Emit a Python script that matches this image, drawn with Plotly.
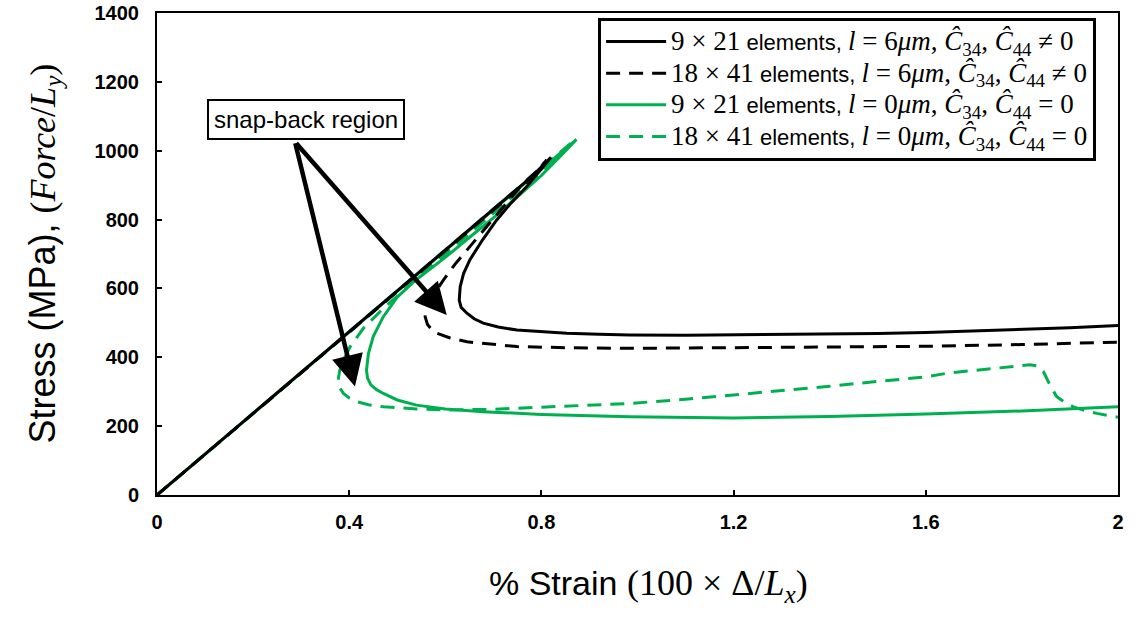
import plotly.graph_objects as go

# ---- data ----
bs_strain = [0, 0.20, 0.40, 0.60, 0.70, 0.78, 0.82, 0.80, 0.769, 0.735, 0.707, 0.678, 0.651, 0.638, 0.631, 0.629,
             0.633, 0.645, 0.660, 0.679, 0.710, 0.749, 0.800, 0.853, 0.92, 0.984, 1.10, 1.20, 1.30, 1.40, 1.50,
             1.60, 1.70, 1.80, 1.90, 2.00]
bs_stress = [0, 237, 474, 711, 829, 925, 981, 947, 895, 845, 799, 742, 683, 643, 605, 566,
             545, 528, 512, 499, 488, 479, 474, 470, 467, 465, 464, 465, 466, 467, 469,
             472, 476, 480, 486, 492]

bd_strain = [0, 0.20, 0.40, 0.60, 0.70, 0.78, 0.811, 0.79, 0.762, 0.721, 0.690, 0.651, 0.620, 0.596, 0.568, 0.560,
             0.558, 0.563, 0.572, 0.582, 0.610, 0.645, 0.700, 0.749, 0.850, 0.984, 1.20, 1.40, 1.60, 1.80, 2.00]
bd_stress = [0, 236, 472, 708, 826, 922, 973, 940, 905, 837, 785, 721, 670, 624, 566, 540,
             518, 495, 480, 470, 456, 445, 437, 431, 428, 426, 428, 429, 432, 437, 444]

gs_strain = [0, 0.20, 0.40, 0.60, 0.80, 0.873, 0.84, 0.80, 0.75, 0.70, 0.65, 0.60, 0.54, 0.50, 0.471, 0.450,
             0.440, 0.436, 0.438, 0.445, 0.457, 0.471, 0.50, 0.540, 0.60, 0.679, 0.80, 0.984, 1.20, 1.40,
             1.60, 1.80, 2.00]
gs_stress = [0, 237, 474, 711, 948, 1033, 985, 928, 866, 805, 748, 690, 626, 575, 518, 460,
             411, 363, 340, 320, 306, 295, 276, 261, 250, 242, 234, 227, 224, 228,
             235, 244, 256]

gd_strain = [0, 0.20, 0.40, 0.60, 0.80, 0.868, 0.84, 0.80, 0.75, 0.70, 0.65, 0.60, 0.54, 0.471, 0.43, 0.402,
             0.388, 0.380, 0.377, 0.380, 0.388, 0.400, 0.416, 0.440, 0.471, 0.54, 0.61, 0.70, 0.818, 0.90,
             0.984, 1.10, 1.20, 1.30, 1.40, 1.50, 1.60, 1.65, 1.72, 1.78, 1.817, 1.835, 1.845, 1.855, 1.872,
             1.89, 1.907, 1.93, 1.956, 1.98, 2.00]
gd_stress = [0, 237, 474, 711, 948, 1030, 990, 937, 878, 818, 758, 698, 628, 542, 485, 431,
             392, 360, 334, 312, 295, 282, 271, 262, 256, 250, 247, 249, 256, 261,
             266, 278, 290, 302, 316, 330, 343, 355, 365, 372, 378, 374, 358, 329, 286,
             268, 256, 246, 237, 231, 226]

x_ticks = [0, 0.4, 0.8, 1.2, 1.6, 2]
x_tick_labels = ["0", "0.4", "0.8", "1.2", "1.6", "2"]
y_ticks = [0, 200, 400, 600, 800, 1000, 1200, 1400]

arrow_tail = (0.287, 1026)
arrow_heads = [(0.603, 523), (0.412, 315)]
box_label = "snap-back region"
box_pos = (0.311, 1090)

SERIF = "Liberation Serif"
SANS = "Liberation Sans"


def m(s, size=None):
    st = f"font-family:{SERIF}"
    if size:
        st += f";font-size:{size}px"
    return f'<span style="{st}">{s}</span>'


LS = 27  # serif size in legend


def leg(a, l, op):
    return (m(a, LS) + " elements, " +
            m(f"<i>l</i> = {l}<i>μm</i>, <i>Ĉ</i><sub>34</sub>, <i>Ĉ</i><sub>44</sub> {op} 0", LS))


names = [leg("9 × 21", 6, "≠"), leg("18 × 41", 6, "≠"), leg("9 × 21", 0, "="), leg("18 × 41", 0, "=")]

GREEN = "#00B050"
BLACK = "#000000"
DASH = "14px,9px"

fig = go.Figure()
fig.add_trace(go.Scatter(x=gs_strain, y=gs_stress, mode="lines", name=names[2], legendrank=3,
                         line=dict(color=GREEN, width=3)))
fig.add_trace(go.Scatter(x=gd_strain, y=gd_stress, mode="lines", name=names[3], legendrank=4,
                         line=dict(color=GREEN, width=3, dash=DASH)))
fig.add_trace(go.Scatter(x=bs_strain, y=bs_stress, mode="lines", name=names[0], legendrank=1,
                         line=dict(color=BLACK, width=3)))
fig.add_trace(go.Scatter(x=bd_strain, y=bd_stress, mode="lines", name=names[1], legendrank=2,
                         line=dict(color=BLACK, width=3, dash=DASH)))

for hx, hy in arrow_heads:
    fig.add_annotation(x=hx, y=hy, ax=arrow_tail[0], ay=arrow_tail[1], axref="x", ayref="y",
                       xref="x", yref="y", text="", showarrow=True, arrowhead=2, arrowsize=1.4,
                       arrowwidth=4.5, arrowcolor="black")

fig.add_annotation(x=box_pos[0], y=box_pos[1], xref="x", yref="y", text=box_label, showarrow=False,
                   font=dict(family=SANS, size=24, color="black"), bgcolor="white",
                   bordercolor="black", borderwidth=2, borderpad=5)

# axis titles as annotations for exact placement
fig.add_annotation(x=-0.117, y=0.50, xref="paper", yref="paper", textangle=-90, showarrow=False,
                   text="Stress (MPa), " + m("(<i>Force</i>/<i>L<sub>y</sub></i>)", 36),
                   font=dict(family=SANS, size=36, color="black"), xanchor="center", yanchor="middle")
fig.add_annotation(x=0.511, y=-0.187, xref="paper", yref="paper", showarrow=False,
                   text="% Strain " + m("(100 × Δ/<i>L<sub>x</sub></i>)", 36),
                   font=dict(family=SANS, size=34, color="black"), xanchor="center", yanchor="middle")

tickfont = dict(family="Arial, " + SANS, size=20, color="black", weight="bold")
fig.update_layout(
    width=1141, height=630,
    margin=dict(l=157, r=23, t=13, b=135),
    plot_bgcolor="white", paper_bgcolor="white",
    font=dict(family=SANS, color="black"),
    showlegend=True,
    legend=dict(x=0.459, y=0.99, xanchor="left", yanchor="top",
                bgcolor="white", bordercolor="black", borderwidth=3,
                font=dict(family=SANS, size=22, color="black"),
                tracegroupgap=0, itemwidth=60),
    xaxis=dict(range=[0, 2], tickvals=x_ticks, ticktext=x_tick_labels, automargin=False,
               showgrid=False, zeroline=False, showline=True, linecolor="black", linewidth=2,
               mirror=True, ticks="inside", ticklen=5, tickwidth=1.5, tickcolor="black",
               tickfont=tickfont, ticklabelstandoff=8, ticklabeloverflow="allow"),
    yaxis=dict(range=[0, 1400], tickvals=y_ticks, automargin=False,
               showgrid=False, zeroline=False, showline=True, linecolor="black", linewidth=2,
               mirror=True, ticks="inside", ticklen=5, tickwidth=1.5, tickcolor="black",
               tickfont=tickfont, ticklabelstandoff=12, ticklabeloverflow="allow"),
)

# remove the browser's default 8px body margin so the figure sits at the page origin
fig.write_html("out.html", config={"displayModeBar": False},
               post_script="document.body.style.margin='0px';")
